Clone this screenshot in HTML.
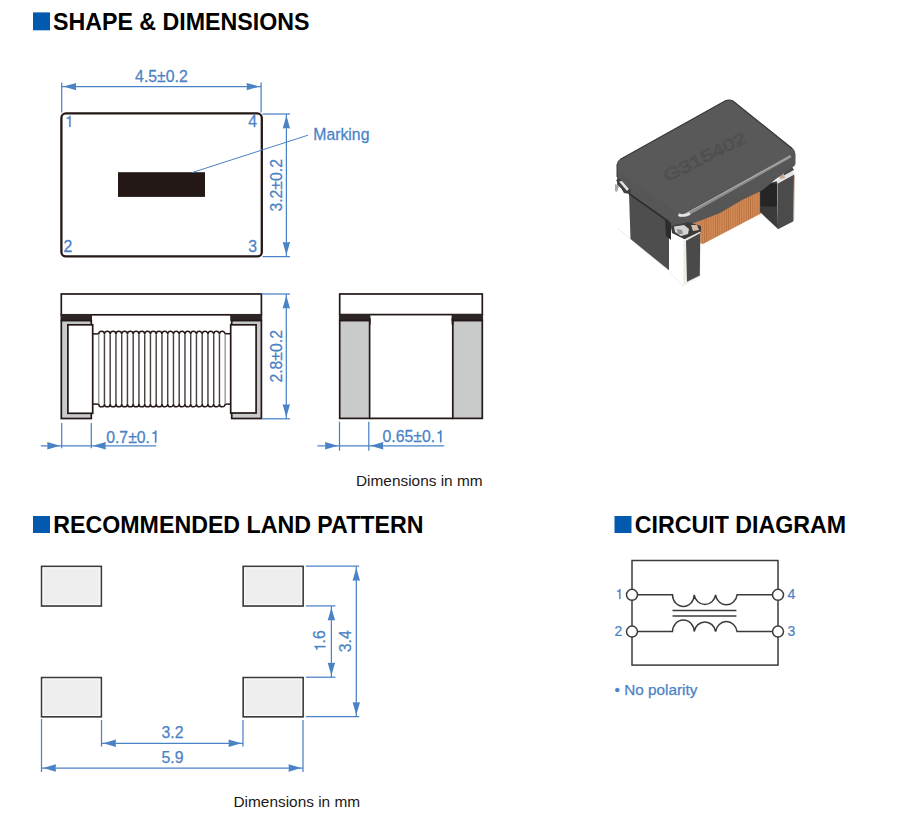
<!DOCTYPE html>
<html><head><meta charset="utf-8"><style>
html,body{margin:0;padding:0;background:#fff;width:900px;height:830px;overflow:hidden}
svg{display:block}
.h{font-family:"Liberation Sans",sans-serif;font-weight:bold;font-size:23.2px;fill:#000}
.d{font-family:"Liberation Sans",sans-serif;font-size:15.8px;fill:#4a82c6;stroke:#4a82c6;stroke-width:0.25px}
.c{font-family:"Liberation Sans",sans-serif;font-size:14px;fill:#4a82c6;stroke:#4a82c6;stroke-width:0.2px}
.t{font-family:"Liberation Sans",sans-serif;font-size:15.4px;fill:#231815}
.g{fill:none;stroke:none}
</style></head><body>
<svg width="900" height="830" viewBox="0 0 900 830">
<rect x="33.0" y="12.4" width="17" height="17.9" fill="#025aae"/>
<text transform="translate(53.00,30.10) scale(1,1)" class="h">SHAPE &amp; DIMENSIONS</text>
<rect x="33.0" y="516.0" width="17" height="17.0" fill="#025aae"/>
<text transform="translate(53.30,533.40) scale(1,1)" class="h">RECOMMENDED LAND PATTERN</text>
<rect x="614.5" y="516.0" width="17" height="17.0" fill="#025aae"/>
<text transform="translate(634.80,533.40) scale(1,1)" class="h">CIRCUIT DIAGRAM</text>
<rect x="61.4" y="113.4" width="200.4" height="143" rx="4.5" fill="none" stroke="#231815" stroke-width="2.3"/>
<rect x="118" y="172.2" width="87" height="24.7" fill="#231815"/>
<line x1="61.70" y1="82.50" x2="61.70" y2="112.50" stroke="#4a82c6" stroke-width="1.25"/>
<line x1="261.10" y1="82.50" x2="261.10" y2="112.50" stroke="#4a82c6" stroke-width="1.25"/>
<line x1="61.70" y1="86.60" x2="261.10" y2="86.60" stroke="#4a82c6" stroke-width="1.25"/>
<polygon points="63.30,86.60 76.20,82.90 75.81,86.60 76.20,90.30" fill="#4a82c6"/>
<polygon points="259.50,86.60 246.60,82.90 246.99,86.60 246.60,90.30" fill="#4a82c6"/>
<text transform="translate(161.40,81.70) scale(1,1.100)" class="d" text-anchor="middle">4.5±0.2</text>
<line x1="262.50" y1="114.00" x2="290.00" y2="114.00" stroke="#4a82c6" stroke-width="1.25"/>
<line x1="262.50" y1="256.60" x2="290.00" y2="256.60" stroke="#4a82c6" stroke-width="1.25"/>
<line x1="286.40" y1="114.00" x2="286.40" y2="256.60" stroke="#4a82c6" stroke-width="1.25"/>
<polygon points="286.40,115.60 282.70,128.50 286.40,128.11 290.10,128.50" fill="#4a82c6"/>
<polygon points="286.40,255.00 282.70,242.10 286.40,242.49 290.10,242.10" fill="#4a82c6"/>
<text transform="translate(281.80,185.30) rotate(-90) scale(1,1.030)" class="d" text-anchor="middle">3.2±0.2</text>
<line x1="192.00" y1="172.60" x2="308.00" y2="135.20" stroke="#4a82c6" stroke-width="1.00"/>
<text transform="translate(313.30,140.40) scale(1,1.030)" class="d">Marking</text>
<g transform="translate(64.20,126.90) scale(1,1.020)"><text id="t1" class="d"><tspan class="g">1</tspan></text><path class="d" style="stroke-width:32.41" transform="translate(0.000,0.000) scale(0.007715,-0.007715)" d="M650,0 L831,0 L831,1409 L701,1409 C675,1290 585,1200 335,1165 L335,1035 L650,1035 Z"/></g>
<text transform="translate(248.30,126.90) scale(1,1.020)" class="d">4</text>
<text transform="translate(63.40,251.80) scale(1,1.040)" class="d">2</text>
<text transform="translate(248.30,251.80) scale(1,1.040)" class="d">3</text>
<line x1="92.00" y1="333.90" x2="99.20" y2="333.90" stroke="#231815" stroke-width="1.50"/>
<line x1="224.70" y1="333.70" x2="231.40" y2="333.70" stroke="#231815" stroke-width="1.50"/>
<line x1="92.00" y1="404.10" x2="99.20" y2="404.10" stroke="#231815" stroke-width="1.50"/>
<line x1="224.70" y1="404.10" x2="231.40" y2="404.10" stroke="#231815" stroke-width="1.50"/>
<path d="M98.70,334.30 A2.875,2.950 0 0 1 104.45,334.30 A2.875,2.950 0 0 1 110.20,334.30 A2.875,2.950 0 0 1 115.95,334.30 A2.875,2.950 0 0 1 121.70,334.30 A2.875,2.950 0 0 1 127.45,334.30 A2.875,2.950 0 0 1 133.20,334.30 A2.875,2.950 0 0 1 138.95,334.30 A2.875,2.950 0 0 1 144.70,334.30 A2.875,2.950 0 0 1 150.45,334.30 A2.875,2.950 0 0 1 156.20,334.30 A2.875,2.950 0 0 1 161.95,334.30 A2.875,2.950 0 0 1 167.70,334.30 A2.875,2.950 0 0 1 173.45,334.30 A2.875,2.950 0 0 1 179.20,334.30 A2.875,2.950 0 0 1 184.95,334.30 A2.875,2.950 0 0 1 190.70,334.30 A2.875,2.950 0 0 1 196.45,334.30 A2.875,2.950 0 0 1 202.20,334.30 A2.875,2.950 0 0 1 207.95,334.30 A2.875,2.950 0 0 1 213.70,334.30 A2.875,2.950 0 0 1 219.45,334.30 A2.875,2.950 0 0 1 225.20,334.30 " fill="#fff" stroke="#231815" stroke-width="1.5"/>
<path d="M98.70,403.90 A2.875,2.950 0 0 0 104.45,403.90 A2.875,2.950 0 0 0 110.20,403.90 A2.875,2.950 0 0 0 115.95,403.90 A2.875,2.950 0 0 0 121.70,403.90 A2.875,2.950 0 0 0 127.45,403.90 A2.875,2.950 0 0 0 133.20,403.90 A2.875,2.950 0 0 0 138.95,403.90 A2.875,2.950 0 0 0 144.70,403.90 A2.875,2.950 0 0 0 150.45,403.90 A2.875,2.950 0 0 0 156.20,403.90 A2.875,2.950 0 0 0 161.95,403.90 A2.875,2.950 0 0 0 167.70,403.90 A2.875,2.950 0 0 0 173.45,403.90 A2.875,2.950 0 0 0 179.20,403.90 A2.875,2.950 0 0 0 184.95,403.90 A2.875,2.950 0 0 0 190.70,403.90 A2.875,2.950 0 0 0 196.45,403.90 A2.875,2.950 0 0 0 202.20,403.90 A2.875,2.950 0 0 0 207.95,403.90 A2.875,2.950 0 0 0 213.70,403.90 A2.875,2.950 0 0 0 219.45,403.90 A2.875,2.950 0 0 0 225.20,403.90 " fill="#fff" stroke="#231815" stroke-width="1.5"/>
<line x1="98.70" y1="334.30" x2="98.70" y2="403.90" stroke="#9a9a9a" stroke-width="1.45"/>
<line x1="104.45" y1="334.30" x2="104.45" y2="403.90" stroke="#4a4240" stroke-width="1.45"/>
<line x1="110.20" y1="334.30" x2="110.20" y2="403.90" stroke="#4a4240" stroke-width="1.45"/>
<line x1="115.95" y1="334.30" x2="115.95" y2="403.90" stroke="#4a4240" stroke-width="1.45"/>
<line x1="121.70" y1="334.30" x2="121.70" y2="403.90" stroke="#4a4240" stroke-width="1.45"/>
<line x1="127.45" y1="334.30" x2="127.45" y2="403.90" stroke="#4a4240" stroke-width="1.45"/>
<line x1="133.20" y1="334.30" x2="133.20" y2="403.90" stroke="#4a4240" stroke-width="1.45"/>
<line x1="138.95" y1="334.30" x2="138.95" y2="403.90" stroke="#4a4240" stroke-width="1.45"/>
<line x1="144.70" y1="334.30" x2="144.70" y2="403.90" stroke="#4a4240" stroke-width="1.45"/>
<line x1="150.45" y1="334.30" x2="150.45" y2="403.90" stroke="#4a4240" stroke-width="1.45"/>
<line x1="156.20" y1="334.30" x2="156.20" y2="403.90" stroke="#4a4240" stroke-width="1.45"/>
<line x1="161.95" y1="334.30" x2="161.95" y2="403.90" stroke="#4a4240" stroke-width="1.45"/>
<line x1="167.70" y1="334.30" x2="167.70" y2="403.90" stroke="#4a4240" stroke-width="1.45"/>
<line x1="173.45" y1="334.30" x2="173.45" y2="403.90" stroke="#4a4240" stroke-width="1.45"/>
<line x1="179.20" y1="334.30" x2="179.20" y2="403.90" stroke="#4a4240" stroke-width="1.45"/>
<line x1="184.95" y1="334.30" x2="184.95" y2="403.90" stroke="#4a4240" stroke-width="1.45"/>
<line x1="190.70" y1="334.30" x2="190.70" y2="403.90" stroke="#4a4240" stroke-width="1.45"/>
<line x1="196.45" y1="334.30" x2="196.45" y2="403.90" stroke="#4a4240" stroke-width="1.45"/>
<line x1="202.20" y1="334.30" x2="202.20" y2="403.90" stroke="#4a4240" stroke-width="1.45"/>
<line x1="207.95" y1="334.30" x2="207.95" y2="403.90" stroke="#4a4240" stroke-width="1.45"/>
<line x1="213.70" y1="334.30" x2="213.70" y2="403.90" stroke="#4a4240" stroke-width="1.45"/>
<line x1="219.45" y1="334.30" x2="219.45" y2="403.90" stroke="#4a4240" stroke-width="1.45"/>
<line x1="225.20" y1="334.30" x2="225.20" y2="403.90" stroke="#9a9a9a" stroke-width="1.45"/>
<rect x="61.30" y="294.00" width="200.10" height="20.80" fill="#fff" stroke="#231815" stroke-width="1.70"/>
<rect x="60.50" y="314.00" width="31.50" height="6.80" fill="#2e2624"/>
<rect x="230.20" y="314.00" width="32.00" height="6.80" fill="#2e2624"/>
<rect x="61.30" y="320.60" width="30.00" height="97.90" fill="#c9caca" stroke="#231815" stroke-width="1.70"/>
<rect x="67.90" y="324.80" width="24.80" height="88.50" fill="#fff" stroke="#231815" stroke-width="1.70"/>
<rect x="231.70" y="320.60" width="29.70" height="97.90" fill="#c9caca" stroke="#231815" stroke-width="1.70"/>
<rect x="230.70" y="324.80" width="25.40" height="88.20" fill="#fff" stroke="#231815" stroke-width="1.70"/>
<line x1="261.50" y1="294.00" x2="290.00" y2="294.00" stroke="#4a82c6" stroke-width="1.25"/>
<line x1="261.50" y1="418.80" x2="290.00" y2="418.80" stroke="#4a82c6" stroke-width="1.25"/>
<line x1="286.30" y1="294.00" x2="286.30" y2="418.80" stroke="#4a82c6" stroke-width="1.25"/>
<polygon points="286.30,295.60 282.60,308.50 286.30,308.11 290.00,308.50" fill="#4a82c6"/>
<polygon points="286.30,417.20 282.60,404.30 286.30,404.69 290.00,404.30" fill="#4a82c6"/>
<text transform="translate(281.80,356.30) rotate(-90) scale(1,1.030)" class="d" text-anchor="middle">2.8±0.2</text>
<line x1="61.70" y1="423.00" x2="61.70" y2="448.30" stroke="#4a82c6" stroke-width="1.25"/>
<line x1="91.30" y1="423.00" x2="91.30" y2="448.30" stroke="#4a82c6" stroke-width="1.25"/>
<line x1="40.80" y1="445.80" x2="156.20" y2="445.80" stroke="#4a82c6" stroke-width="1.25"/>
<polygon points="60.10,445.80 47.20,442.10 47.59,445.80 47.20,449.50" fill="#4a82c6"/>
<polygon points="92.90,445.80 105.80,442.10 105.41,445.80 105.80,449.50" fill="#4a82c6"/>
<g transform="translate(106.20,442.50) scale(1,1.100)"><text id="t2" class="d">0.7±0.<tspan class="g">1</tspan></text><path class="d" style="stroke-width:32.41" transform="translate(43.775,0.000) scale(0.007715,-0.007715)" d="M650,0 L831,0 L831,1409 L701,1409 C675,1290 585,1200 335,1165 L335,1035 L650,1035 Z"/></g>
<rect x="339.70" y="294.00" width="142.60" height="20.60" fill="#fff" stroke="#231815" stroke-width="1.70"/>
<rect x="338.90" y="314.00" width="31.50" height="6.80" fill="#2e2624"/>
<rect x="451.60" y="314.00" width="31.50" height="6.80" fill="#2e2624"/>
<rect x="339.70" y="320.60" width="29.90" height="97.80" fill="#c9caca" stroke="#231815" stroke-width="1.70"/>
<rect x="452.80" y="320.60" width="29.50" height="97.80" fill="#c9caca" stroke="#231815" stroke-width="1.70"/>
<line x1="369.60" y1="418.40" x2="452.80" y2="418.40" stroke="#231815" stroke-width="1.70"/>
<rect x="369.00" y="318.00" width="1.60" height="6.60" fill="#231815"/>
<rect x="451.60" y="318.00" width="1.80" height="6.60" fill="#231815"/>
<line x1="339.50" y1="421.70" x2="339.50" y2="450.80" stroke="#4a82c6" stroke-width="1.25"/>
<line x1="368.80" y1="421.70" x2="368.80" y2="450.80" stroke="#4a82c6" stroke-width="1.25"/>
<line x1="317.50" y1="445.80" x2="444.20" y2="445.80" stroke="#4a82c6" stroke-width="1.25"/>
<polygon points="337.90,445.80 325.00,442.10 325.39,445.80 325.00,449.50" fill="#4a82c6"/>
<polygon points="370.40,445.80 383.30,442.10 382.91,445.80 383.30,449.50" fill="#4a82c6"/>
<g transform="translate(382.50,442.20) scale(1,1.100)"><text id="t3" class="d">0.65±0.<tspan class="g">1</tspan></text><path class="d" style="stroke-width:32.41" transform="translate(52.559,0.000) scale(0.007715,-0.007715)" d="M650,0 L831,0 L831,1409 L701,1409 C675,1290 585,1200 335,1165 L335,1035 L650,1035 Z"/></g>
<text transform="translate(356.00,486.40) scale(1,1.000)" class="t">Dimensions in mm</text>
<rect x="41.60" y="566.40" width="59.70" height="39.60" fill="#eeeeee" stroke="#3e3a39" stroke-width="1.7"/>
<rect x="43.00" y="567.80" width="56.90" height="36.80" fill="none" stroke="#ffffff" stroke-width="0.9"/>
<rect x="243.20" y="566.40" width="59.90" height="39.60" fill="#eeeeee" stroke="#3e3a39" stroke-width="1.7"/>
<rect x="244.60" y="567.80" width="57.10" height="36.80" fill="none" stroke="#ffffff" stroke-width="0.9"/>
<rect x="41.60" y="677.60" width="59.70" height="39.20" fill="#eeeeee" stroke="#3e3a39" stroke-width="1.7"/>
<rect x="43.00" y="679.00" width="56.90" height="36.40" fill="none" stroke="#ffffff" stroke-width="0.9"/>
<rect x="243.20" y="677.60" width="59.90" height="39.20" fill="#eeeeee" stroke="#3e3a39" stroke-width="1.7"/>
<rect x="244.60" y="679.00" width="57.10" height="36.40" fill="none" stroke="#ffffff" stroke-width="0.9"/>
<line x1="305.90" y1="566.20" x2="359.10" y2="566.20" stroke="#4a82c6" stroke-width="1.25"/>
<line x1="305.90" y1="605.90" x2="335.40" y2="605.90" stroke="#4a82c6" stroke-width="1.25"/>
<line x1="305.90" y1="677.20" x2="335.40" y2="677.20" stroke="#4a82c6" stroke-width="1.25"/>
<line x1="305.90" y1="716.70" x2="359.10" y2="716.70" stroke="#4a82c6" stroke-width="1.25"/>
<line x1="331.40" y1="605.90" x2="331.40" y2="677.20" stroke="#4a82c6" stroke-width="1.25"/>
<polygon points="331.40,607.50 327.70,620.40 331.40,620.01 335.10,620.40" fill="#4a82c6"/>
<polygon points="331.40,675.60 327.70,662.70 331.40,663.09 335.10,662.70" fill="#4a82c6"/>
<line x1="356.30" y1="566.20" x2="356.30" y2="716.70" stroke="#4a82c6" stroke-width="1.25"/>
<polygon points="356.30,567.80 352.60,580.70 356.30,580.31 360.00,580.70" fill="#4a82c6"/>
<polygon points="356.30,715.10 352.60,702.20 356.30,702.59 360.00,702.20" fill="#4a82c6"/>
<g transform="translate(325.40,641.30) rotate(-90) scale(1,1.000)"><text id="t4" class="d" text-anchor="middle"><tspan class="g">1</tspan>.6</text><path class="d" style="stroke-width:32.41" transform="translate(-10.992,0.000) scale(0.007715,-0.007715)" d="M650,0 L831,0 L831,1409 L701,1409 C675,1290 585,1200 335,1165 L335,1035 L650,1035 Z"/></g>
<text transform="translate(350.60,641.30) rotate(-90) scale(1,1.000)" class="d" text-anchor="middle">3.4</text>
<line x1="41.50" y1="719.00" x2="41.50" y2="772.00" stroke="#4a82c6" stroke-width="1.25"/>
<line x1="101.50" y1="720.00" x2="101.50" y2="746.60" stroke="#4a82c6" stroke-width="1.25"/>
<line x1="243.00" y1="720.00" x2="243.00" y2="746.60" stroke="#4a82c6" stroke-width="1.25"/>
<line x1="303.00" y1="720.00" x2="303.00" y2="772.00" stroke="#4a82c6" stroke-width="1.25"/>
<line x1="101.50" y1="743.30" x2="243.00" y2="743.30" stroke="#4a82c6" stroke-width="1.25"/>
<polygon points="103.10,743.30 116.00,739.60 115.61,743.30 116.00,747.00" fill="#4a82c6"/>
<polygon points="241.40,743.30 228.50,739.60 228.89,743.30 228.50,747.00" fill="#4a82c6"/>
<line x1="41.50" y1="768.00" x2="303.00" y2="768.00" stroke="#4a82c6" stroke-width="1.25"/>
<polygon points="43.10,768.00 56.00,764.30 55.61,768.00 56.00,771.70" fill="#4a82c6"/>
<polygon points="301.40,768.00 288.50,764.30 288.89,768.00 288.50,771.70" fill="#4a82c6"/>
<text transform="translate(172.50,738.20) scale(1,1.000)" class="d" text-anchor="middle">3.2</text>
<text transform="translate(172.50,763.20) scale(1,1.000)" class="d" text-anchor="middle">5.9</text>
<text transform="translate(233.50,807.00) scale(1,1.000)" class="t">Dimensions in mm</text>
<rect x="632" y="560.5" width="146" height="104.6" fill="none" stroke="#3e3a39" stroke-width="1.5"/>
<path d="M632,594.80 L672.5,594.80 A10.85,11.6 0 0 0 694.20,594.80 A10.85,11.6 0 0 0 715.60,594.80 A10.85,11.6 0 0 0 737.10,594.80 L778,594.80" fill="none" stroke="#3e3a39" stroke-width="1.5"/>
<path d="M632,631.60 L672.5,631.60 A10.85,11.6 0 0 1 694.20,631.60 A10.85,11.6 0 0 1 715.60,631.60 A10.85,11.6 0 0 1 737.10,631.60 L778,631.60" fill="none" stroke="#3e3a39" stroke-width="1.5"/>
<line x1="672.50" y1="610.40" x2="736.40" y2="610.40" stroke="#3e3a39" stroke-width="1.50"/>
<line x1="672.50" y1="616.00" x2="736.40" y2="616.00" stroke="#3e3a39" stroke-width="1.50"/>
<circle cx="632.0" cy="594.8" r="5.5" fill="#fff" stroke="#3e3a39" stroke-width="1.5"/>
<circle cx="632.0" cy="631.6" r="5.5" fill="#fff" stroke="#3e3a39" stroke-width="1.5"/>
<circle cx="778.0" cy="594.8" r="5.5" fill="#fff" stroke="#3e3a39" stroke-width="1.5"/>
<circle cx="778.0" cy="631.6" r="5.5" fill="#fff" stroke="#3e3a39" stroke-width="1.5"/>
<g transform="translate(614.80,598.90) scale(1,1.020)"><text id="t5" class="c"><tspan class="g">1</tspan></text><path class="c" style="stroke-width:36.57" transform="translate(0.000,0.000) scale(0.006836,-0.006836)" d="M650,0 L831,0 L831,1409 L701,1409 C675,1290 585,1200 335,1165 L335,1035 L650,1035 Z"/></g>
<text transform="translate(614.60,635.80) scale(1,1.100)" class="c">2</text>
<text transform="translate(787.50,599.00) scale(1,1.100)" class="c">4</text>
<text transform="translate(787.50,636.00) scale(1,1.100)" class="c">3</text>
<text transform="translate(614.60,695.00) scale(1,1.000)" class="d" style="font-size:15.30px">• No polarity</text>
<g id="product">
  <!-- faint white terminal bottom edges -->
  <polyline points="617,228 669,271" fill="none" stroke="#ececec" stroke-width="1"/>
  <polyline points="669,272 683,286" fill="none" stroke="#ececec" stroke-width="1"/>
  <!-- copper winding -->
  <defs>
    <pattern id="cu" patternUnits="userSpaceOnUse" width="2.2" height="10">
      <rect width="2.2" height="10" fill="#d18a55"/>
      <rect width="0.8" height="10" fill="#b9713e"/>
    </pattern>
  </defs>
  <polygon points="686,228 762,186 762,213 703,244 690,240" fill="url(#cu)"/>
  <!-- back right terminal block -->
  <polygon points="760,186 777,181 778,229 760,212" fill="#3b3b3b"/>
  <rect x="760.5" y="183.5" width="16.5" height="23" rx="2.5" fill="#252525"/>
  <polygon points="777.4,182.5 794.2,174.5 793.1,221.6 778,229.2" fill="#4b4b4b"/>
  <polyline points="794.2,176 793.6,221" fill="none" stroke="#b08060" stroke-width="0.8"/>
  <polygon points="776,180.5 792,171 795,174 778,183.5" fill="#e4e4e4"/>
  <polygon points="781,172 792,166.5 794,170 783,176" fill="#4a4a4a"/>
  <polygon points="778,173 783,171 785,178 780,179" fill="#c9a88f"/>
  <!-- cap body (sides + under-body dark) -->
  <path d="M620,159.5 L725,101 Q729,99 733,101 L793,148.5 Q796,151.5 795.5,155.5 L795.5,164 Q795,166 792,167.5 L776,179 L762,190.5 L742,200 L720,213 L697,222 L688,226 L672,230 L669,222 L629,194 L617,185 L617,165 Q617,161 620,159.5 Z" fill="#565656"/>
  <!-- top face -->
  <path d="M620,159.5 L725,101 Q729,99 733,101 L792,148.5 Q795,151.5 792,154.5 L686,212 Q680,216 676,212 L619,172 Q617,170 617,167 L617,164 Q617,161 620,159.5 Z" fill="#595959"/>
  <path d="M620,159.5 L725,101 Q729,99 733,101 L792,148.5" fill="none" stroke="#3a3a3a" stroke-width="1.2"/>
  <path d="M617,164 L617,177" fill="none" stroke="#3a3a3a" stroke-width="1"/>
  <!-- highlight on front-right edge -->
  <path d="M679,215 Q683,216.5 690,213 L791,156" fill="none" stroke="#8c8c8c" stroke-width="3"/>
  <path d="M684,214.5 L790,156.5" fill="none" stroke="#b0b0b0" stroke-width="1"/>
  <path d="M678.5,214.5 Q683,217 690,213.5" fill="none" stroke="#e4e4e4" stroke-width="2.6"/>
  <!-- left front terminal plate -->
  <polygon points="629,193.6 669,221.8 669,270.3 630.5,239" fill="#4e4e4e"/>
  <polyline points="629,193.6 669,221.8" fill="none" stroke="#2a2a2a" stroke-width="1.5"/>
  <polygon points="665,219 671,223 671,240 666,236" fill="#2c2c2c"/>
  <!-- silver bits -->
  <polygon points="616,180 620,179 631,190 630,194 624,193" fill="#3e3e3e"/>
  <polygon points="619,181.5 622,181 629,189 627,191" fill="#e0e0e0"/>
  <polygon points="615,184 619,186 617,192 615,191" fill="#a8a8a8"/>
  <polygon points="671,226 688,222 701,226 701,232 686,240 672,233" fill="#3c3c3c"/>
  <polygon points="674,226.5 684,225 689,229 688,234 681,236 675,232" fill="#d4d4d4"/>
  <polygon points="677,229 682,230 683,234 678,234" fill="#8f8f8f"/>
  <polygon points="691,225 697,225 699,230 693,231" fill="#d5bca8"/>
  <!-- marking -->
  <text transform="translate(667,182) rotate(-26.5)" font-family="Liberation Sans" font-size="16.5" fill="none" stroke="#4c4c4c" stroke-width="0.75" textLength="90" lengthAdjust="spacingAndGlyphs">G315402</text>
  <!-- front right terminal -->
  <polygon points="683.4,239.8 700.3,231.6 700.3,276.6 683.4,285.9" fill="#f0ece6"/>
  <polygon points="686,240.8 700.3,233.1 699.8,275.6 687,281.8" fill="#4a4a4a"/>
</g>

</svg>
</body></html>
